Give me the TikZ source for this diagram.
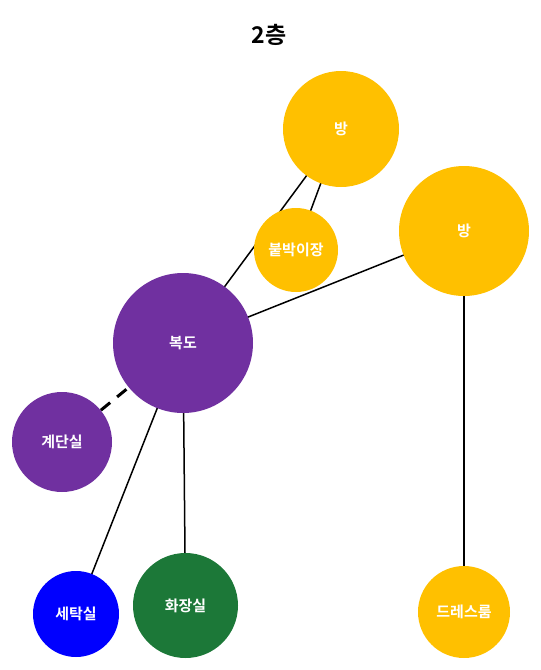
\documentclass[tikz,border=0pt]{standalone}
\usepackage{fontspec}
\usetikzlibrary{backgrounds}
\newfontfamily\kr{Noto Sans CJK KR}[BoldFont={* Bold}]
\definecolor{gold}{RGB}{255,192,0}
\definecolor{plum}{RGB}{112,48,160}
\definecolor{pureblue}{RGB}{0,0,255}
\definecolor{leaf}{RGB}{28,120,56}
\begin{document}
\begin{tikzpicture}[x=1pt,y=-1pt,
  room/.style={circle,inner sep=0pt,minimum size=#1*2pt,text=white,
    font=\kr\bfseries\fontsize{15}{17}\selectfont},
  link/.style={draw=black,line width=1.5pt},
  stairlink/.style={draw=black,line width=3pt,dash pattern=on 12pt off 9pt}]
\useasboundingbox (0,0) rectangle (541,670);
\node[font=\kr\bfseries\fontsize{23}{26}\selectfont] (title) at (269,35) {2층};
% rooms
\node[room=58,fill=gold]      (bang1)   at (341,129)     {방};
\node[room=65,fill=gold]      (bang2)   at (464,231)     {방};
\node[room=42,fill=gold]      (closet)  at (296,250)     {붙박이장};
\node[room=70,fill=plum]      (hall)    at (183,343)     {복도};
\node[room=50,fill=plum]      (stairs)  at (62,442)      {계단실};
\node[room=43,fill=pureblue]  (laundry) at (76,614)      {세탁실};
\node[room=52.5,fill=leaf]    (bath)    at (185.5,605.5) {화장실};
\node[room=46,fill=gold]      (dress)   at (464,612)     {드레스룸};
% connections run beneath the rooms
\begin{scope}[on background layer]
\path[link] (bang1.center) -- (hall.center);
\path[link] (bang1.center) -- (closet.center);
\path[link] (bang2.center) -- (hall.center);
\path[link] (bang2.center) -- (dress.center);
\path[link] (hall.center) -- (laundry.center);
\path[link] (hall.center) -- (bath.center);
\path[stairlink] (stairs) -- (hall);
\end{scope}
\end{tikzpicture}
\end{document}
